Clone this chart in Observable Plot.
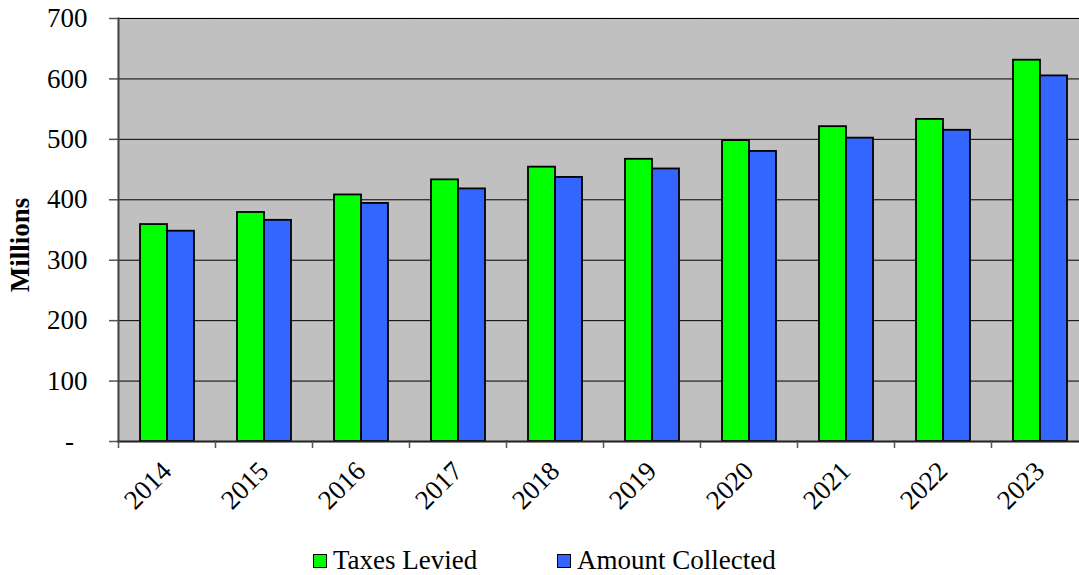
<!DOCTYPE html>
<html>
<head>
<meta charset="utf-8">
<script src="https://cdn.jsdelivr.net/npm/d3@7"></script>
<script src="https://cdn.jsdelivr.net/npm/@observablehq/plot@0.6"></script>
<style>
  html, body { margin: 0; padding: 0; background: white; overflow: hidden; }
  #wrap { position: relative; width: 1079px; height: 575px; }
  #legend { position: absolute; left: 0; top: 545px; width: 1079px; height: 30px;
    font-family: "Liberation Serif", "Times New Roman", serif; font-size: 27px; color: black; }
  .item { position: absolute; top: 0; display: flex; align-items: center; white-space: nowrap; }
  .sw { width: 12px; height: 12px; border: 1.5px solid black; margin-right: 6px; }
  svg text { font-family: "Liberation Serif", "Times New Roman", serif !important; font-variant: normal !important; }
</style>
</head>
<body>
<div id="wrap">
  <div id="chart"></div>
  <div id="legend"></div>
</div>
<script>
const years = ["2014","2015","2016","2017","2018","2019","2020","2021","2022","2023"];
const taxesLevied = [359, 379, 408, 433, 454, 467, 498, 521, 533, 631];
const amountCollected = [348, 366, 394, 418, 437, 451, 480, 502, 515, 605];
const seriesNames = ["Taxes Levied", "Amount Collected"];
const seriesColors = ["#00ff00", "#3366ff"];
const yTicks = [0, 100, 200, 300, 400, 500, 600, 700];

const data = years.flatMap((yr, i) => [
  {year: yr, series: seriesNames[0], value: taxesLevied[i]},
  {year: yr, series: seriesNames[1], value: amountCollected[i]}
]);

const serif = "'Liberation Serif','Times New Roman',serif";
const W = 1079, H = 520, mL = 118, mR = -9, mT = 18, mB = H - 441;
const step = (W - mR - mL) / years.length;

const chart = Plot.plot({
  width: W, height: H,
  marginLeft: mL, marginRight: mR, marginTop: mT, marginBottom: mB,
  style: {fontFamily: serif, fontSize: "27px", color: "black", background: "white", overflow: "hidden"},
  fx: {domain: years, padding: 0, label: null, axis: null},
  x: {domain: seriesNames, paddingInner: 0, paddingOuter: 0.764, axis: null},
  y: {domain: [0, 700], label: null, axis: null},
  color: {domain: seriesNames, range: seriesColors},
  marks: [
    Plot.frame({fill: "#c0c0c0", stroke: "#c0c0c0", strokeWidth: 1.5}),
    Plot.ruleY(yTicks.slice(1), {stroke: "black", strokeWidth: 1}),
    Plot.barY(data, {fx: "year", x: "series", y: "value", fill: "series", stroke: "black", strokeWidth: 1.8}),
    Plot.axisY({ticks: yTicks, tickSize: 9, tickPadding: 22, stroke: "#555", strokeWidth: 1.5, fill: "black",
      fontFamily: serif, fontSize: 27, fontVariant: "normal",
      tickFormat: d => d === 0 ? "-\u00a0\u00a0" : String(d), label: null}),
    Plot.frame({anchor: "left", stroke: "#444", strokeWidth: 2, facetAnchor: "left"}),
    Plot.frame({anchor: "bottom", stroke: "#222", strokeWidth: 2}),
    Plot.axisFx({anchor: "bottom", tickSize: 7, tickFormat: () => "", dx: -step / 2, stroke: "#555", strokeWidth: 1.5, label: null}),
    Plot.axisFx({anchor: "bottom", tickSize: 0, tickRotate: -45, tickPadding: 25, label: null, fill: "black",
      fontFamily: serif, fontSize: 27}),
    Plot.text(["Millions"], {frameAnchor: "left", rotate: -90, dx: -98, dy: 15, fontWeight: "bold",
      textAnchor: "middle", lineAnchor: "middle", fontSize: 27, fontFamily: serif, facetAnchor: "left", fill: "black"})
  ]
});
document.getElementById("chart").appendChild(chart);

const legend = document.getElementById("legend");
const lefts = [313, 557];
seriesNames.forEach((name, i) => {
  const it = document.createElement("div");
  it.className = "item";
  it.style.left = lefts[i] + "px";
  const sw = document.createElement("div");
  sw.className = "sw";
  sw.style.background = seriesColors[i];
  const tx = document.createElement("span");
  tx.textContent = name;
  it.appendChild(sw); it.appendChild(tx);
  legend.appendChild(it);
});
</script>
</body>
</html>
